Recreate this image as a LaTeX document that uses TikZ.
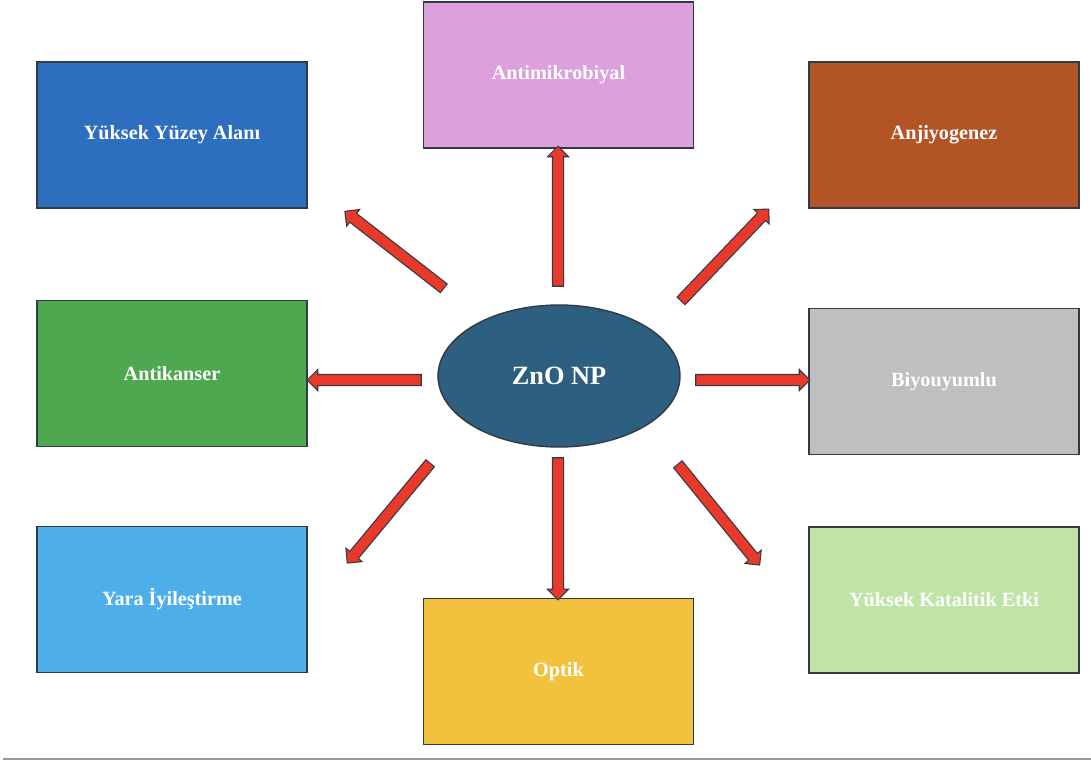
\documentclass[tikz,border=0pt]{standalone}
\usepackage{fontspec}
\setmainfont{Liberation Serif}
\usepackage{tikz}
\usetikzlibrary{calc,shapes.geometric,shapes.arrows}

\definecolor{cYuzey}{RGB}{46,110,190}
\definecolor{cMikrob}{RGB}{220,160,220}
\definecolor{cAnjiyo}{RGB}{179,84,38}
\definecolor{cKanser}{RGB}{78,168,80}
\definecolor{cBiyo}{RGB}{191,191,191}
\definecolor{cYara}{RGB}{77,174,234}
\definecolor{cOptik}{RGB}{242,194,62}
\definecolor{cKatal}{RGB}{192,227,168}
\definecolor{cZnO}{RGB}{45,95,128}
\definecolor{cArrow}{RGB}{232,57,42}
\definecolor{cEdge}{RGB}{50,58,70}

\tikzset{
  propbox/.style={rectangle, draw=cEdge, line width=1pt, minimum width=5.4cm,
    minimum height=2.92cm, text=white, font=\fontsize{11.5}{14}\selectfont\bfseries},
  centre/.style={ellipse, draw=cEdge, line width=0.8pt, fill=cZnO, minimum width=4.84cm,
    minimum height=2.84cm, text=white, font=\fontsize{15}{18}\selectfont\bfseries},
  fatarrow/.style={single arrow, draw=cEdge, line width=0.6pt, fill=cArrow,
    inner sep=0.1cm, single arrow head extend=0.1cm, single arrow head indent=0pt,
    minimum width=0.4cm}
}

\begin{document}
\begin{tikzpicture}[x=0.02cm, y=-0.02cm]
\useasboundingbox[fill=white] (0,0) rectangle (1091,765);

% centre
\node[centre] (zno) at (559,376) {ZnO NP};

% boxes
\node[propbox, fill=cYuzey] (yuzey) at (172,135) {Yüksek Yüzey Alanı};
\node[propbox, fill=cMikrob] (mikrob) at (558.5,75) {Antimikrobiyal};
\node[propbox, fill=cAnjiyo] (anjiyo) at (944,135) {Anjiyogenez};
\node[propbox, fill=cKanser] (kanser) at (172,373.5) {Antikanser};
\node[propbox, fill=cBiyo] (biyo) at (944,381.5) {Biyouyumlu};
\node[propbox, fill=cYara] (yara) at (172,599.5) {Yara İyileştirme};
\node[propbox, fill=cOptik] (optik) at (558.5,671.5) {Optik};
\node[propbox, fill=cKatal] (katal) at (944,600) {Yüksek Katalitik Etki};

% arrows
\foreach \i/\sx/\sy/\tx/\ty in {1/558/289/558/149, 2/446/290/347/213, 3/679/303/767/211,
    4/424/380/310/380, 5/693/380/807/380, 6/432/461/349/561, 7/558/455/558/597,
    8/676/462/758/563}{
  \coordinate (s\i) at (\sx,\sy);
  \coordinate (t\i) at (\tx,\ty);
  \path let \p1=($(t\i)-(s\i)$), \n1={atan2(\y1,\x1)}, \n2={veclen(\x1,\y1)} in
    node[fatarrow, rotate=\n1, minimum height=\n2] (arr\i) at ($(s\i)!0.5!(t\i)$) {};
}

% rule at the bottom
\draw[gray!80, line width=0.8pt] (3,759) -- (1091,759);
\end{tikzpicture}
\end{document}
